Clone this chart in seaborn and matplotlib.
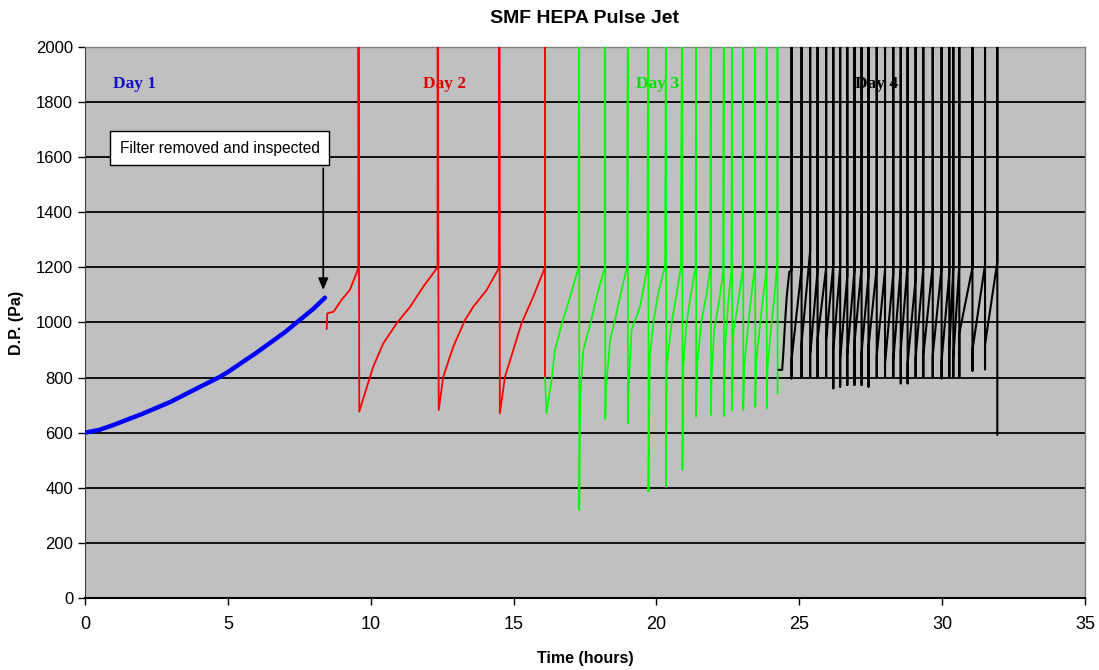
import numpy as np
import pandas as pd
import seaborn as sns
import matplotlib.pyplot as plt

# value used for pulses that run off the top of the chart
OFF_SCALE = 2500

# Day 1 - smooth loading curve
day1_t = [0.0, 0.5, 1.0, 2.0, 3.0, 4.0, 4.73, 5.0, 6.0, 7.0, 7.41, 8.0, 8.4]
day1_dp = [600, 610, 628, 668, 712, 765, 803, 820, 890, 965, 1000, 1050, 1090]

# Day 2 - after the filter was inspected, 4 pulses
day2_t = [8.46, 8.48, 8.7, 8.98, 9.27, 9.5, 9.57,
          9.57, 9.6, 9.8, 10.09, 10.44, 10.91, 11.38, 11.84, 12.34,
          12.34, 12.38, 12.54, 12.89, 13.3, 13.59, 14.06, 14.5,
          14.5, 14.52, 14.7, 14.99, 15.28, 15.69, 16.1,
          16.1, 16.1]
day2_dp = [976, 1033, 1039, 1082, 1118, 1178, 1200,
           OFF_SCALE, 676, 744, 840, 924, 997, 1057, 1130, 1200,
           OFF_SCALE, 682, 803, 912, 1009, 1057, 1118, 1200,
           OFF_SCALE, 670, 803, 900, 997, 1094, 1200,
           OFF_SCALE, 800]

# Day 3
day3_t = [16.1, 16.15, 16.33, 16.45, 16.68, 16.98, 17.27,
          17.3, 17.3, 17.33, 17.44, 17.68, 17.91, 18.2,
          18.21, 18.21, 18.24, 18.38, 18.55, 18.78, 18.97,
          19.0, 19.0, 19.03, 19.13, 19.3, 19.42, 19.54, 19.68,
          19.72, 19.72, 19.77, 19.89, 20.06, 20.3,
          20.34, 20.34, 20.36, 20.53, 20.71, 20.85,
          20.91, 20.91, 20.94, 21.05, 21.23, 21.37,
          21.39, 21.39, 21.43, 21.58, 21.76, 21.88,
          21.91, 21.91, 21.93, 22.02, 22.2, 22.33,
          22.36, 22.36, 22.4, 22.52, 22.62,
          22.65, 22.65, 22.69, 22.87, 23.02,
          23.04, 23.04, 23.07, 23.22, 23.33, 23.44,
          23.46, 23.46, 23.49, 23.63, 23.75, 23.84,
          23.86, 23.86, 23.89, 24.03, 24.15, 24.23,
          24.24, 24.24]
day3_dp = [800, 670, 791, 900, 991, 1094, 1197,
           OFF_SCALE, 319, 731, 900, 991, 1094, 1205,
           OFF_SCALE, 650, 767, 936, 1009, 1118, 1203,
           OFF_SCALE, 634, 767, 973, 1021, 1057, 1118, 1203,
           OFF_SCALE, 386, 876, 997, 1106, 1203,
           OFF_SCALE, 404, 840, 997, 1106, 1197,
           OFF_SCALE, 465, 840, 997, 1118, 1203,
           OFF_SCALE, 658, 852, 1009, 1106, 1197,
           OFF_SCALE, 664, 803, 973, 1082, 1179,
           OFF_SCALE, 660, 900, 1082, 1184,
           OFF_SCALE, 680, 961, 1082, 1191,
           OFF_SCALE, 682, 840, 997, 1106, 1197,
           OFF_SCALE, 694, 852, 997, 1106, 1179,
           OFF_SCALE, 688, 840, 997, 1118, 1221,
           OFF_SCALE, 743]

# Day 4 - initial ramp then many short pulse cycles
day4_ramp_t = [24.27, 24.4, 24.44, 24.5, 24.56, 24.65]
day4_ramp_dp = [828, 828, 888, 997, 1094, 1184]
pulse_t = [24.73, 25.08, 25.38, 25.64, 25.94, 26.19, 26.43, 26.68, 26.93,
           27.18, 27.42, 27.71, 28.0, 28.29, 28.55, 28.79, 29.07, 29.34,
           29.67, 29.98, 30.25, 30.39, 30.6, 31.06, 31.5, 31.93]
pulse_peak = [1190, 1197, 1260, 1190, 1200, 1210, 1200, 1170, 1190,
              1200, 1170, 1200, 1190, 1180, 1200, 1210, 1160, 1200,
              1210, 1200, 1180, 1200, 1210, 1200, 1210, 1220]
pulse_min = [797, 803, 803, 803, 803, 761, 767, 773, 773,
             773, 767, 803, 803, 803, 779, 779, 803, 803,
             803, 797, 803, 803, 803, 825, 830, 592]
pulse_restart = [865, 925, 880, 940, 935, 900, 865, 880, 925,
                 890, 910, 880, 850, 860, 900, 850, 870, 880,
                 880, 860, 900, 870, 960, 900, 920]

day4_t = list(day4_ramp_t)
day4_dp = list(day4_ramp_dp)
for i, p in enumerate(pulse_t):
    day4_t += [p, p, p]
    day4_dp += [pulse_peak[i], OFF_SCALE, pulse_min[i]]
    if i < len(pulse_restart):
        day4_t.append(p)
        day4_dp.append(pulse_restart[i])

days = ['Day 1', 'Day 2', 'Day 3', 'Day 4']
colors = ['#0000FF', '#FF0000', '#00FF00', '#000000']
widths = [3.2, 1.3, 1.2, 1.5]
label_t = [1.75, 12.6, 20.05, 27.7]
label_colors = ['#1010C8', '#E00000', '#00E000', '#000000']

df = pd.concat([
    pd.DataFrame({'time': day1_t, 'dp': day1_dp, 'day': 'Day 1'}),
    pd.DataFrame({'time': day2_t, 'dp': day2_dp, 'day': 'Day 2'}),
    pd.DataFrame({'time': day3_t, 'dp': day3_dp, 'day': 'Day 3'}),
    pd.DataFrame({'time': day4_t, 'dp': day4_dp, 'day': 'Day 4'}),
], ignore_index=True)

sns.set_style('ticks')
plt.rcParams['font.family'] = ['Liberation Sans', 'DejaVu Sans']
plt.rcParams['text.color'] = 'black'
plt.rcParams['axes.labelcolor'] = 'black'

fig = plt.figure(figsize=(10.99, 6.70), dpi=100)
ax = fig.add_axes([0.0773, 0.1075, 0.91, 0.8224])
ax.set_facecolor('#C0C0C0')

for day, c, w in zip(days, colors, widths):
    sns.lineplot(data=df[df['day'] == day], x='time', y='dp', color=c,
                 linewidth=w, sort=False, estimator=None, ax=ax, zorder=3)

ax.set_xlim(0, 35)
ax.set_ylim(0, 2000)
ax.set_xticks(np.arange(0, 36, 5))
ax.set_yticks(np.arange(0, 2001, 200))
ax.yaxis.grid(True, color='black', linewidth=1.3)
ax.set_axisbelow(True)

for side in ['top', 'right']:
    ax.spines[side].set_color('#808080')
    ax.spines[side].set_linewidth(1.0)
ax.spines['left'].set_color('#404040')
ax.spines['bottom'].set_color('black')
ax.spines['bottom'].set_linewidth(1.5)
ax.tick_params(axis='both', direction='out', length=5, width=1,
               labelsize=12, colors='black')
ax.tick_params(axis='x', labelsize=13, pad=8)

ax.set_xlabel('Time (hours)', fontsize=11.5, fontweight='bold', labelpad=13)
ax.set_ylabel('D.P. (Pa)', fontsize=11.5, fontweight='bold', labelpad=9)
fig.suptitle('SMF HEPA Pulse Jet', x=0.532, y=0.985, fontsize=14,
             fontweight='bold')

for day, t, c in zip(days, label_t, label_colors):
    ax.text(t, 1865, day, color=c, fontsize=12.5, fontweight='bold',
            family=['Liberation Serif', 'DejaVu Serif'],
            ha='center', va='center', zorder=5)

ax.text(4.71, 1633, 'Filter removed and inspected', fontsize=11.2,
        ha='center', va='center', zorder=6,
        bbox=dict(boxstyle='square,pad=0.6', facecolor='white',
                  edgecolor='black', linewidth=1))
ax.annotate('', xy=(8.34, 1108), xytext=(8.34, 1570),
            arrowprops=dict(arrowstyle='-|>,head_length=0.7,head_width=0.3',
                            color='black', lw=1.2), zorder=6)

fig.savefig('out.png', dpi=100)
